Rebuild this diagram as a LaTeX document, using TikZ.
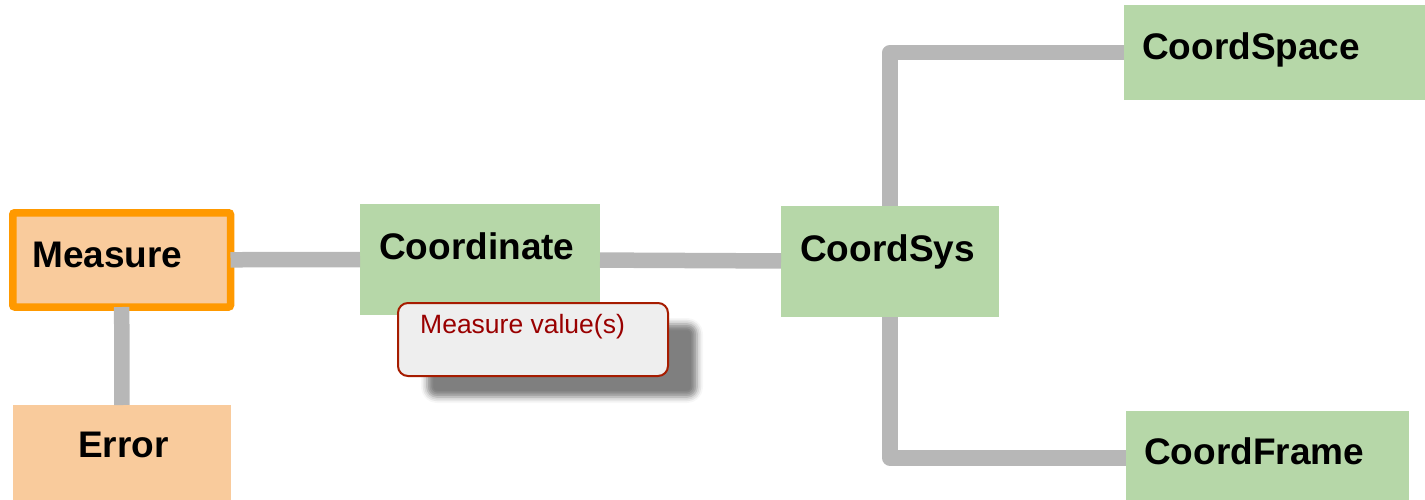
\documentclass[tikz,border=0pt]{standalone}
\usepackage{fontspec}
\setmainfont{Liberation Sans}
\usetikzlibrary{shadows.blur}

\definecolor{warmfill}{HTML}{F9CB9C}
\definecolor{warmline}{HTML}{FF9900}
\definecolor{greenfill}{HTML}{B6D7A8}
\definecolor{linkgray}{HTML}{B7B7B7}
\definecolor{notefill}{HTML}{EEEEEE}
\definecolor{noteline}{HTML}{A61C00}
\definecolor{notetext}{HTML}{990000}

\tikzset{
  box/.style={rectangle, inner sep=0pt, outer sep=0pt, anchor=north west},
  warmbox/.style={box, fill=warmfill},
  greenbox/.style={box, fill=greenfill},
  lbl/.style={inner sep=0pt, anchor=base west,
    font=\fontsize{37}{40}\selectfont\bfseries},
  link/.style={draw=linkgray, line width=15.5pt, line join=round},
  note/.style={box, fill=notefill, draw=noteline, line width=2pt,
    rounded corners=10pt,
    blur shadow={shadow xshift=29pt, shadow yshift=-21pt,
      shadow blur radius=6pt, shadow opacity=50}},
  notelbl/.style={inner sep=0pt, anchor=base west, text=notetext,
    font=\fontsize{26.5}{30}\selectfont},
}

\begin{document}
\begin{tikzpicture}[x=1pt, y=-1pt]
  \useasboundingbox (0,0) rectangle (1425,500);

  % boxes
  \node[warmbox, draw=warmline, line width=7.5pt, rounded corners=2pt,
        minimum width=217.75pt, minimum height=94.25pt]
        (measure) at (12.75,212.75) {};
  \node[warmbox, minimum width=218pt, minimum height=100pt]
        (error) at (13,405) {};
  \node[greenbox, minimum width=240pt, minimum height=111pt]
        (coordinate) at (360,204) {};
  \node[greenbox, minimum width=218pt, minimum height=111pt]
        (coordsys) at (781,206) {};
  \node[greenbox, minimum width=305pt, minimum height=95pt]
        (coordspace) at (1124,5) {};
  \node[greenbox, minimum width=283pt, minimum height=94pt]
        (coordframe) at (1126,411) {};

  % connectors, ending on the box borders
  \draw[link] (measure) -- (coordinate);
  \draw[link] (measure) -- (error);
  \draw[link] (coordinate) -- (coordsys);
  \draw[link] (coordsys) |- (coordspace);
  \draw[link] (coordsys) |- (coordframe);

  % labels
  \node[lbl] (tmeasure)    at (32,267)   {Measure};
  \node[lbl] (terror)      at (78,457)   {Error};
  \node[lbl] (tcoordinate) at (379,259)  {Coordinate};
  \node[lbl] (tcoordsys)   at (800,261)  {CoordSys};
  \node[lbl] (tcoordspace) at (1142,60)  {CoordSpace};
  \node[lbl] (tcoordframe) at (1144,464) {CoordFrame};

  % note
  \node[note, minimum width=270pt, minimum height=73pt]
        (valnote) at (398,303) {};
  \node[notelbl] (tvalnote) at (420,333) {Measure value(s)};
\end{tikzpicture}
\end{document}
